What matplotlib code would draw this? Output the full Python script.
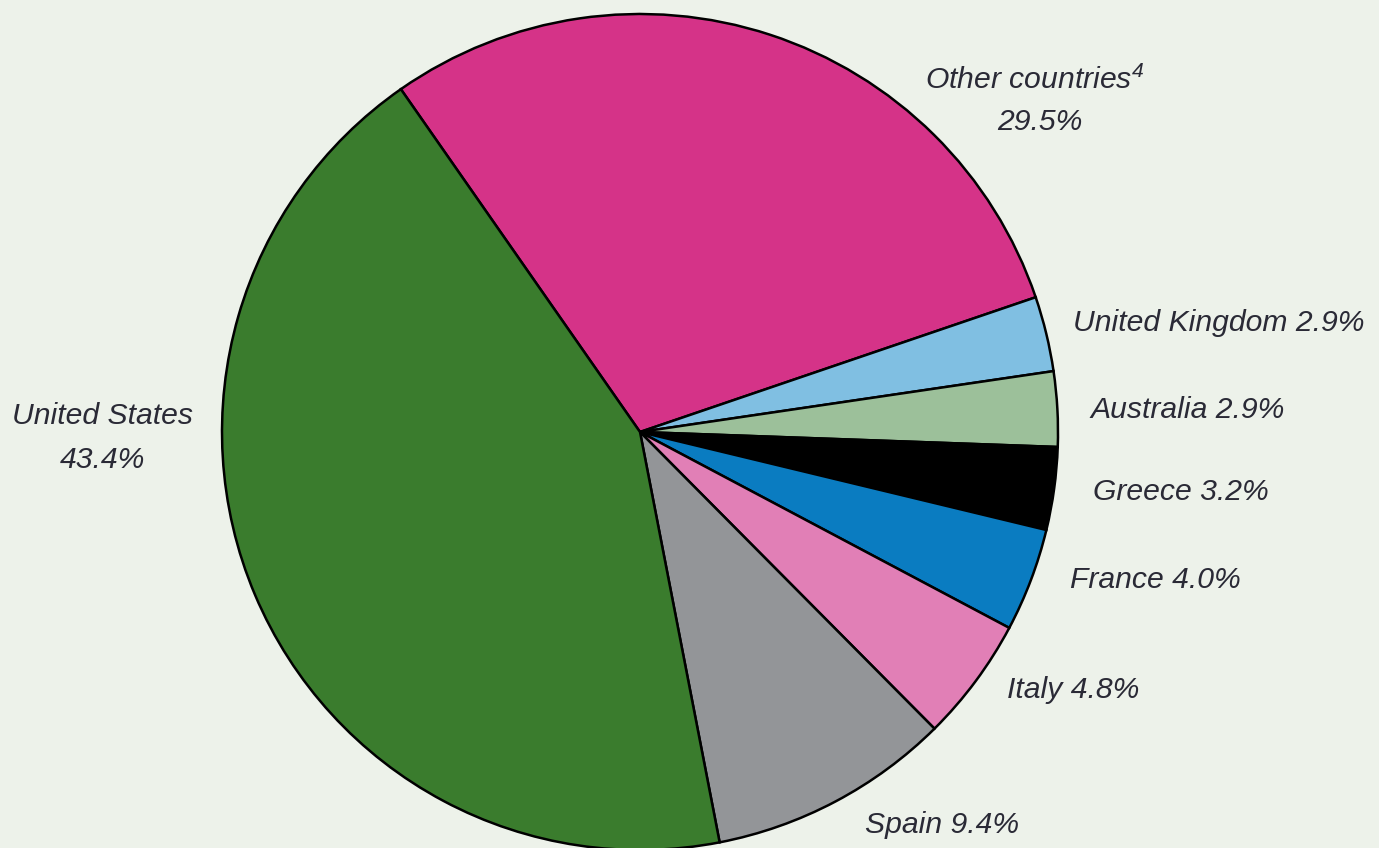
import matplotlib
matplotlib.use("Agg")
import matplotlib.pyplot as plt

# Share of total, clockwise from the top-left boundary
countries = ["Other countries", "United Kingdom", "Australia", "Greece",
             "France", "Italy", "Spain", "United States"]
shares = [29.5, 2.9, 2.9, 3.2, 4.0, 4.8, 9.4, 43.4]
colors = ["#d53388", "#80bfe2", "#9cc09a", "#000000",
          "#0a7cc1", "#e17fb6", "#939598", "#3a7c2d"]

plt.rcParams["mathtext.fontset"] = "custom"
plt.rcParams["mathtext.rm"] = "Liberation Sans:italic"
plt.rcParams["mathtext.it"] = "Liberation Sans:italic"

W, H = 1379, 848
fig = plt.figure(figsize=(W / 100, H / 100), dpi=100)
bg = "#edf2ea"
fig.patch.set_facecolor(bg)
ax = fig.add_axes([0, 0, 1, 1])
ax.set_facecolor(bg)

cx, cy, r = 640, H - 432, 418
ax.pie(shares, colors=colors, startangle=124.9, counterclock=False,
       center=(cx, cy), radius=r, frame=True,
       wedgeprops=dict(edgecolor="black", linewidth=1.8))
ax.set_xlim(0, W)
ax.set_ylim(0, H)
ax.set_aspect("equal")
ax.axis("off")

font = dict(family=["Liberation Sans", "DejaVu Sans"], style="italic",
            fontsize=21.7, color="#2a2a36")

def label(x, y, s, ha="left"):
    ax.text(x, H - y, s, ha=ha, va="center", **font)

def pct(v):
    return f"{v:.1f}%"

label(1035, 80, countries[0] + r"$^{4}$", ha="center")
label(1040, 122, pct(shares[0]), ha="center")
label(1073, 323, f"{countries[1]} {pct(shares[1])}")
label(1090, 410, f"{countries[2]} {pct(shares[2])}")
label(1093, 492, f"{countries[3]} {pct(shares[3])}")
label(1070, 580, f"{countries[4]} {pct(shares[4])}")
label(1007, 690, f"{countries[5]} {pct(shares[5])}")
label(865, 825, f"{countries[6]} {pct(shares[6])}")
label(103, 416, countries[7], ha="center")
label(103, 460, pct(shares[7]), ha="center")

fig.savefig("out.png", dpi=100, facecolor=bg)
